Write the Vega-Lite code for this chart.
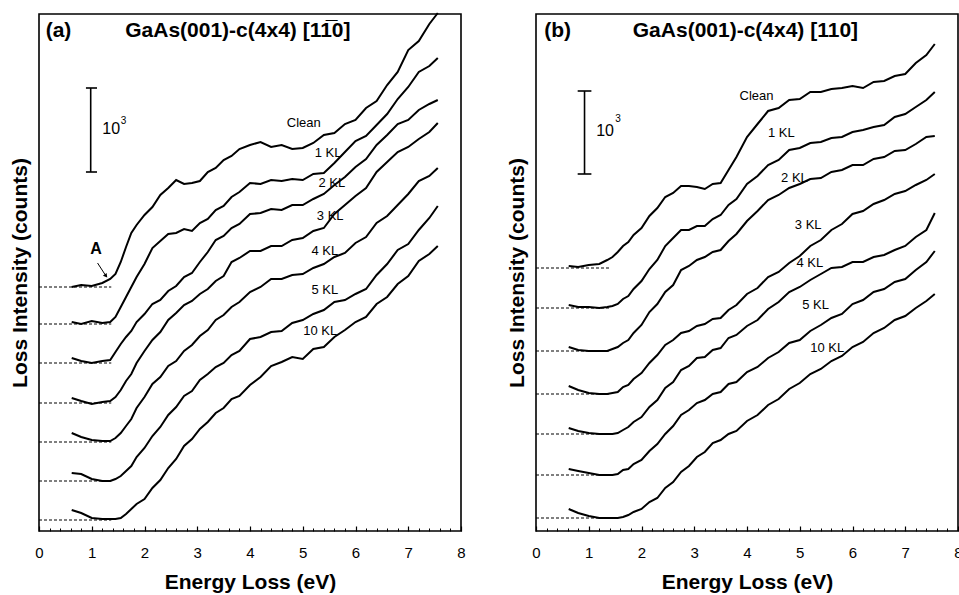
{
"$schema": "https://vega.github.io/schema/vega-lite/v6.json",
"padding": {"left": 8, "top": 8, "right": 2, "bottom": 0},
"background": "white",
"spacing": 39,
"config": {"view": {"stroke": "black", "strokeWidth": 1.6}, "font": "Liberation Sans"},
"datasets": {
"curves": [
{"p":"a","s":"0","e":0.62,"i":244},{"p":"a","s":"0","e":0.8,"i":246},{"p":"a","s":"0","e":1,"i":245},{"p":"a","s":"0","e":1.2,"i":248},{"p":"a","s":"0","e":1.35,"i":252},{"p":"a","s":"0","e":1.45,"i":257},{"p":"a","s":"0","e":1.55,"i":269},{"p":"a","s":"0","e":1.65,"i":284},{"p":"a","s":"0","e":1.75,"i":298},{"p":"a","s":"0","e":1.85,"i":306},{"p":"a","s":"0","e":2,"i":316},{"p":"a","s":"0","e":2.15,"i":324},{"p":"a","s":"0","e":2.3,"i":336},{"p":"a","s":"0","e":2.45,"i":343},{"p":"a","s":"0","e":2.6,"i":351},{"p":"a","s":"0","e":2.75,"i":347},{"p":"a","s":"0","e":2.9,"i":348},{"p":"a","s":"0","e":3.05,"i":350},{"p":"a","s":"0","e":3.2,"i":359},{"p":"a","s":"0","e":3.35,"i":363},{"p":"a","s":"0","e":3.5,"i":371},{"p":"a","s":"0","e":3.65,"i":375},{"p":"a","s":"0","e":3.8,"i":382},{"p":"a","s":"0","e":4,"i":386},{"p":"a","s":"0","e":4.2,"i":389},{"p":"a","s":"0","e":4.4,"i":384},{"p":"a","s":"0","e":4.6,"i":386},{"p":"a","s":"0","e":4.8,"i":382},{"p":"a","s":"0","e":5,"i":383},{"p":"a","s":"0","e":5.2,"i":388},{"p":"a","s":"0","e":5.4,"i":396},{"p":"a","s":"0","e":5.6,"i":398},{"p":"a","s":"0","e":5.8,"i":407},{"p":"a","s":"0","e":6,"i":411},{"p":"a","s":"0","e":6.2,"i":423},{"p":"a","s":"0","e":6.4,"i":430},{"p":"a","s":"0","e":6.6,"i":446},{"p":"a","s":"0","e":6.8,"i":459},{"p":"a","s":"0","e":7,"i":481},{"p":"a","s":"0","e":7.2,"i":490},{"p":"a","s":"0","e":7.4,"i":507},{"p":"a","s":"0","e":7.56,"i":518},
{"p":"a","s":"1","e":0.62,"i":209},{"p":"a","s":"1","e":0.8,"i":207},{"p":"a","s":"1","e":1,"i":210},{"p":"a","s":"1","e":1.2,"i":208},{"p":"a","s":"1","e":1.35,"i":209},{"p":"a","s":"1","e":1.45,"i":214},{"p":"a","s":"1","e":1.55,"i":224},{"p":"a","s":"1","e":1.65,"i":234},{"p":"a","s":"1","e":1.75,"i":244},{"p":"a","s":"1","e":1.85,"i":254},{"p":"a","s":"1","e":2,"i":267},{"p":"a","s":"1","e":2.15,"i":283},{"p":"a","s":"1","e":2.3,"i":290},{"p":"a","s":"1","e":2.45,"i":297},{"p":"a","s":"1","e":2.6,"i":298},{"p":"a","s":"1","e":2.75,"i":302},{"p":"a","s":"1","e":2.9,"i":300},{"p":"a","s":"1","e":3.05,"i":308},{"p":"a","s":"1","e":3.2,"i":312},{"p":"a","s":"1","e":3.35,"i":321},{"p":"a","s":"1","e":3.5,"i":325},{"p":"a","s":"1","e":3.65,"i":334},{"p":"a","s":"1","e":3.8,"i":339},{"p":"a","s":"1","e":4,"i":348},{"p":"a","s":"1","e":4.2,"i":347},{"p":"a","s":"1","e":4.4,"i":351},{"p":"a","s":"1","e":4.6,"i":350},{"p":"a","s":"1","e":4.8,"i":352},{"p":"a","s":"1","e":5,"i":351},{"p":"a","s":"1","e":5.2,"i":357},{"p":"a","s":"1","e":5.4,"i":358},{"p":"a","s":"1","e":5.6,"i":368},{"p":"a","s":"1","e":5.8,"i":379},{"p":"a","s":"1","e":6,"i":390},{"p":"a","s":"1","e":6.2,"i":395},{"p":"a","s":"1","e":6.4,"i":406},{"p":"a","s":"1","e":6.6,"i":417},{"p":"a","s":"1","e":6.8,"i":432},{"p":"a","s":"1","e":7,"i":444},{"p":"a","s":"1","e":7.2,"i":459},{"p":"a","s":"1","e":7.4,"i":465},{"p":"a","s":"1","e":7.56,"i":473},
{"p":"a","s":"2","e":0.62,"i":173},{"p":"a","s":"2","e":0.8,"i":170},{"p":"a","s":"2","e":1,"i":168},{"p":"a","s":"2","e":1.2,"i":170},{"p":"a","s":"2","e":1.35,"i":171},{"p":"a","s":"2","e":1.45,"i":179},{"p":"a","s":"2","e":1.55,"i":187},{"p":"a","s":"2","e":1.65,"i":194},{"p":"a","s":"2","e":1.75,"i":200},{"p":"a","s":"2","e":1.85,"i":209},{"p":"a","s":"2","e":2,"i":217},{"p":"a","s":"2","e":2.15,"i":227},{"p":"a","s":"2","e":2.3,"i":231},{"p":"a","s":"2","e":2.45,"i":240},{"p":"a","s":"2","e":2.6,"i":245},{"p":"a","s":"2","e":2.75,"i":254},{"p":"a","s":"2","e":2.9,"i":258},{"p":"a","s":"2","e":3.05,"i":269},{"p":"a","s":"2","e":3.2,"i":279},{"p":"a","s":"2","e":3.35,"i":291},{"p":"a","s":"2","e":3.5,"i":295},{"p":"a","s":"2","e":3.65,"i":303},{"p":"a","s":"2","e":3.8,"i":307},{"p":"a","s":"2","e":4,"i":317},{"p":"a","s":"2","e":4.2,"i":318},{"p":"a","s":"2","e":4.4,"i":322},{"p":"a","s":"2","e":4.6,"i":321},{"p":"a","s":"2","e":4.8,"i":326},{"p":"a","s":"2","e":5,"i":326},{"p":"a","s":"2","e":5.2,"i":332},{"p":"a","s":"2","e":5.4,"i":337},{"p":"a","s":"2","e":5.6,"i":346},{"p":"a","s":"2","e":5.8,"i":354},{"p":"a","s":"2","e":6,"i":364},{"p":"a","s":"2","e":6.2,"i":372},{"p":"a","s":"2","e":6.4,"i":386},{"p":"a","s":"2","e":6.6,"i":396},{"p":"a","s":"2","e":6.8,"i":407},{"p":"a","s":"2","e":7,"i":411},{"p":"a","s":"2","e":7.2,"i":421},{"p":"a","s":"2","e":7.4,"i":427},{"p":"a","s":"2","e":7.56,"i":431},
{"p":"a","s":"3","e":0.62,"i":133},{"p":"a","s":"3","e":0.8,"i":130},{"p":"a","s":"3","e":1,"i":127},{"p":"a","s":"3","e":1.2,"i":129},{"p":"a","s":"3","e":1.35,"i":130},{"p":"a","s":"3","e":1.45,"i":134},{"p":"a","s":"3","e":1.55,"i":141},{"p":"a","s":"3","e":1.65,"i":150},{"p":"a","s":"3","e":1.75,"i":157},{"p":"a","s":"3","e":1.85,"i":168},{"p":"a","s":"3","e":2,"i":180},{"p":"a","s":"3","e":2.15,"i":191},{"p":"a","s":"3","e":2.3,"i":199},{"p":"a","s":"3","e":2.45,"i":211},{"p":"a","s":"3","e":2.6,"i":218},{"p":"a","s":"3","e":2.75,"i":226},{"p":"a","s":"3","e":2.9,"i":230},{"p":"a","s":"3","e":3.05,"i":237},{"p":"a","s":"3","e":3.2,"i":242},{"p":"a","s":"3","e":3.35,"i":250},{"p":"a","s":"3","e":3.5,"i":255},{"p":"a","s":"3","e":3.65,"i":269},{"p":"a","s":"3","e":3.8,"i":273},{"p":"a","s":"3","e":4,"i":280},{"p":"a","s":"3","e":4.2,"i":280},{"p":"a","s":"3","e":4.4,"i":285},{"p":"a","s":"3","e":4.6,"i":285},{"p":"a","s":"3","e":4.8,"i":291},{"p":"a","s":"3","e":5,"i":293},{"p":"a","s":"3","e":5.2,"i":300},{"p":"a","s":"3","e":5.4,"i":303},{"p":"a","s":"3","e":5.6,"i":317},{"p":"a","s":"3","e":5.8,"i":326},{"p":"a","s":"3","e":6,"i":335},{"p":"a","s":"3","e":6.2,"i":343},{"p":"a","s":"3","e":6.4,"i":359},{"p":"a","s":"3","e":6.6,"i":369},{"p":"a","s":"3","e":6.8,"i":379},{"p":"a","s":"3","e":7,"i":384},{"p":"a","s":"3","e":7.2,"i":392},{"p":"a","s":"3","e":7.4,"i":399},{"p":"a","s":"3","e":7.56,"i":408},
{"p":"a","s":"4","e":0.62,"i":98},{"p":"a","s":"4","e":0.8,"i":94},{"p":"a","s":"4","e":1,"i":91},{"p":"a","s":"4","e":1.2,"i":90},{"p":"a","s":"4","e":1.35,"i":90},{"p":"a","s":"4","e":1.45,"i":93},{"p":"a","s":"4","e":1.55,"i":98},{"p":"a","s":"4","e":1.65,"i":105},{"p":"a","s":"4","e":1.75,"i":112},{"p":"a","s":"4","e":1.85,"i":123},{"p":"a","s":"4","e":2,"i":134},{"p":"a","s":"4","e":2.15,"i":147},{"p":"a","s":"4","e":2.3,"i":154},{"p":"a","s":"4","e":2.45,"i":165},{"p":"a","s":"4","e":2.6,"i":170},{"p":"a","s":"4","e":2.75,"i":180},{"p":"a","s":"4","e":2.9,"i":186},{"p":"a","s":"4","e":3.05,"i":195},{"p":"a","s":"4","e":3.2,"i":201},{"p":"a","s":"4","e":3.35,"i":211},{"p":"a","s":"4","e":3.5,"i":216},{"p":"a","s":"4","e":3.65,"i":224},{"p":"a","s":"4","e":3.8,"i":229},{"p":"a","s":"4","e":4,"i":239},{"p":"a","s":"4","e":4.2,"i":244},{"p":"a","s":"4","e":4.4,"i":252},{"p":"a","s":"4","e":4.6,"i":252},{"p":"a","s":"4","e":4.8,"i":256},{"p":"a","s":"4","e":5,"i":257},{"p":"a","s":"4","e":5.2,"i":263},{"p":"a","s":"4","e":5.4,"i":267},{"p":"a","s":"4","e":5.6,"i":274},{"p":"a","s":"4","e":5.8,"i":278},{"p":"a","s":"4","e":6,"i":288},{"p":"a","s":"4","e":6.2,"i":294},{"p":"a","s":"4","e":6.4,"i":308},{"p":"a","s":"4","e":6.6,"i":315},{"p":"a","s":"4","e":6.8,"i":326},{"p":"a","s":"4","e":7,"i":337},{"p":"a","s":"4","e":7.2,"i":350},{"p":"a","s":"4","e":7.4,"i":355},{"p":"a","s":"4","e":7.56,"i":363},
{"p":"a","s":"5","e":0.62,"i":58},{"p":"a","s":"5","e":0.8,"i":57},{"p":"a","s":"5","e":1,"i":52},{"p":"a","s":"5","e":1.2,"i":50},{"p":"a","s":"5","e":1.35,"i":50},{"p":"a","s":"5","e":1.45,"i":52},{"p":"a","s":"5","e":1.55,"i":55},{"p":"a","s":"5","e":1.65,"i":60},{"p":"a","s":"5","e":1.75,"i":65},{"p":"a","s":"5","e":1.85,"i":74},{"p":"a","s":"5","e":2,"i":83},{"p":"a","s":"5","e":2.15,"i":95},{"p":"a","s":"5","e":2.3,"i":104},{"p":"a","s":"5","e":2.45,"i":116},{"p":"a","s":"5","e":2.6,"i":124},{"p":"a","s":"5","e":2.75,"i":135},{"p":"a","s":"5","e":2.9,"i":140},{"p":"a","s":"5","e":3.05,"i":151},{"p":"a","s":"5","e":3.2,"i":157},{"p":"a","s":"5","e":3.35,"i":164},{"p":"a","s":"5","e":3.5,"i":168},{"p":"a","s":"5","e":3.65,"i":176},{"p":"a","s":"5","e":3.8,"i":180},{"p":"a","s":"5","e":4,"i":192},{"p":"a","s":"5","e":4.2,"i":194},{"p":"a","s":"5","e":4.4,"i":199},{"p":"a","s":"5","e":4.6,"i":200},{"p":"a","s":"5","e":4.8,"i":208},{"p":"a","s":"5","e":5,"i":211},{"p":"a","s":"5","e":5.2,"i":217},{"p":"a","s":"5","e":5.4,"i":221},{"p":"a","s":"5","e":5.6,"i":229},{"p":"a","s":"5","e":5.8,"i":231},{"p":"a","s":"5","e":6,"i":237},{"p":"a","s":"5","e":6.2,"i":242},{"p":"a","s":"5","e":6.4,"i":256},{"p":"a","s":"5","e":6.6,"i":267},{"p":"a","s":"5","e":6.8,"i":281},{"p":"a","s":"5","e":7,"i":287},{"p":"a","s":"5","e":7.2,"i":301},{"p":"a","s":"5","e":7.4,"i":313},{"p":"a","s":"5","e":7.56,"i":325},
{"p":"a","s":"10","e":0.62,"i":21},{"p":"a","s":"10","e":0.8,"i":18},{"p":"a","s":"10","e":1,"i":13},{"p":"a","s":"10","e":1.2,"i":12},{"p":"a","s":"10","e":1.35,"i":12},{"p":"a","s":"10","e":1.45,"i":12},{"p":"a","s":"10","e":1.55,"i":13},{"p":"a","s":"10","e":1.65,"i":17},{"p":"a","s":"10","e":1.75,"i":22},{"p":"a","s":"10","e":1.85,"i":27},{"p":"a","s":"10","e":2,"i":32},{"p":"a","s":"10","e":2.15,"i":43},{"p":"a","s":"10","e":2.3,"i":51},{"p":"a","s":"10","e":2.45,"i":63},{"p":"a","s":"10","e":2.6,"i":72},{"p":"a","s":"10","e":2.75,"i":85},{"p":"a","s":"10","e":2.9,"i":92},{"p":"a","s":"10","e":3.05,"i":102},{"p":"a","s":"10","e":3.2,"i":109},{"p":"a","s":"10","e":3.35,"i":118},{"p":"a","s":"10","e":3.5,"i":123},{"p":"a","s":"10","e":3.65,"i":132},{"p":"a","s":"10","e":3.8,"i":135},{"p":"a","s":"10","e":4,"i":146},{"p":"a","s":"10","e":4.2,"i":154},{"p":"a","s":"10","e":4.4,"i":165},{"p":"a","s":"10","e":4.6,"i":169},{"p":"a","s":"10","e":4.8,"i":174},{"p":"a","s":"10","e":5,"i":172},{"p":"a","s":"10","e":5.2,"i":182},{"p":"a","s":"10","e":5.4,"i":184},{"p":"a","s":"10","e":5.6,"i":194},{"p":"a","s":"10","e":5.8,"i":201},{"p":"a","s":"10","e":6,"i":209},{"p":"a","s":"10","e":6.2,"i":214},{"p":"a","s":"10","e":6.4,"i":227},{"p":"a","s":"10","e":6.6,"i":234},{"p":"a","s":"10","e":6.8,"i":247},{"p":"a","s":"10","e":7,"i":255},{"p":"a","s":"10","e":7.2,"i":270},{"p":"a","s":"10","e":7.4,"i":277},{"p":"a","s":"10","e":7.56,"i":285},
{"p":"b","s":"0","e":0.62,"i":265},{"p":"b","s":"0","e":0.8,"i":264},{"p":"b","s":"0","e":1,"i":266},{"p":"b","s":"0","e":1.2,"i":267},{"p":"b","s":"0","e":1.35,"i":271},{"p":"b","s":"0","e":1.45,"i":274},{"p":"b","s":"0","e":1.55,"i":279},{"p":"b","s":"0","e":1.65,"i":285},{"p":"b","s":"0","e":1.75,"i":289},{"p":"b","s":"0","e":1.85,"i":296},{"p":"b","s":"0","e":2,"i":303},{"p":"b","s":"0","e":2.15,"i":315},{"p":"b","s":"0","e":2.3,"i":323},{"p":"b","s":"0","e":2.45,"i":334},{"p":"b","s":"0","e":2.6,"i":338},{"p":"b","s":"0","e":2.75,"i":345},{"p":"b","s":"0","e":2.9,"i":345},{"p":"b","s":"0","e":3.05,"i":344},{"p":"b","s":"0","e":3.2,"i":342},{"p":"b","s":"0","e":3.35,"i":347},{"p":"b","s":"0","e":3.5,"i":348},{"p":"b","s":"0","e":3.65,"i":361},{"p":"b","s":"0","e":3.8,"i":374},{"p":"b","s":"0","e":4,"i":394},{"p":"b","s":"0","e":4.2,"i":407},{"p":"b","s":"0","e":4.4,"i":420},{"p":"b","s":"0","e":4.6,"i":423},{"p":"b","s":"0","e":4.8,"i":431},{"p":"b","s":"0","e":5,"i":432},{"p":"b","s":"0","e":5.2,"i":439},{"p":"b","s":"0","e":5.4,"i":439},{"p":"b","s":"0","e":5.6,"i":442},{"p":"b","s":"0","e":5.8,"i":443},{"p":"b","s":"0","e":6,"i":445},{"p":"b","s":"0","e":6.2,"i":443},{"p":"b","s":"0","e":6.4,"i":449},{"p":"b","s":"0","e":6.6,"i":450},{"p":"b","s":"0","e":6.8,"i":455},{"p":"b","s":"0","e":7,"i":457},{"p":"b","s":"0","e":7.2,"i":468},{"p":"b","s":"0","e":7.4,"i":476},{"p":"b","s":"0","e":7.56,"i":487},
{"p":"b","s":"1","e":0.62,"i":226},{"p":"b","s":"1","e":0.8,"i":224},{"p":"b","s":"1","e":1,"i":224},{"p":"b","s":"1","e":1.2,"i":223},{"p":"b","s":"1","e":1.35,"i":224},{"p":"b","s":"1","e":1.45,"i":225},{"p":"b","s":"1","e":1.55,"i":227},{"p":"b","s":"1","e":1.65,"i":232},{"p":"b","s":"1","e":1.75,"i":235},{"p":"b","s":"1","e":1.85,"i":242},{"p":"b","s":"1","e":2,"i":250},{"p":"b","s":"1","e":2.15,"i":262},{"p":"b","s":"1","e":2.3,"i":271},{"p":"b","s":"1","e":2.45,"i":285},{"p":"b","s":"1","e":2.6,"i":293},{"p":"b","s":"1","e":2.75,"i":301},{"p":"b","s":"1","e":2.9,"i":301},{"p":"b","s":"1","e":3.05,"i":305},{"p":"b","s":"1","e":3.2,"i":305},{"p":"b","s":"1","e":3.35,"i":312},{"p":"b","s":"1","e":3.5,"i":316},{"p":"b","s":"1","e":3.65,"i":326},{"p":"b","s":"1","e":3.8,"i":332},{"p":"b","s":"1","e":4,"i":347},{"p":"b","s":"1","e":4.2,"i":355},{"p":"b","s":"1","e":4.4,"i":366},{"p":"b","s":"1","e":4.6,"i":371},{"p":"b","s":"1","e":4.8,"i":381},{"p":"b","s":"1","e":5,"i":383},{"p":"b","s":"1","e":5.2,"i":388},{"p":"b","s":"1","e":5.4,"i":389},{"p":"b","s":"1","e":5.6,"i":393},{"p":"b","s":"1","e":5.8,"i":394},{"p":"b","s":"1","e":6,"i":399},{"p":"b","s":"1","e":6.2,"i":401},{"p":"b","s":"1","e":6.4,"i":404},{"p":"b","s":"1","e":6.6,"i":406},{"p":"b","s":"1","e":6.8,"i":414},{"p":"b","s":"1","e":7,"i":417},{"p":"b","s":"1","e":7.2,"i":424},{"p":"b","s":"1","e":7.4,"i":431},{"p":"b","s":"1","e":7.56,"i":439},
{"p":"b","s":"2","e":0.62,"i":184},{"p":"b","s":"2","e":0.8,"i":181},{"p":"b","s":"2","e":1,"i":180},{"p":"b","s":"2","e":1.2,"i":180},{"p":"b","s":"2","e":1.35,"i":180},{"p":"b","s":"2","e":1.45,"i":182},{"p":"b","s":"2","e":1.55,"i":184},{"p":"b","s":"2","e":1.65,"i":188},{"p":"b","s":"2","e":1.75,"i":191},{"p":"b","s":"2","e":1.85,"i":198},{"p":"b","s":"2","e":2,"i":206},{"p":"b","s":"2","e":2.15,"i":219},{"p":"b","s":"2","e":2.3,"i":227},{"p":"b","s":"2","e":2.45,"i":239},{"p":"b","s":"2","e":2.6,"i":246},{"p":"b","s":"2","e":2.75,"i":261},{"p":"b","s":"2","e":2.9,"i":265},{"p":"b","s":"2","e":3.05,"i":271},{"p":"b","s":"2","e":3.2,"i":274},{"p":"b","s":"2","e":3.35,"i":279},{"p":"b","s":"2","e":3.5,"i":281},{"p":"b","s":"2","e":3.65,"i":290},{"p":"b","s":"2","e":3.8,"i":297},{"p":"b","s":"2","e":4,"i":310},{"p":"b","s":"2","e":4.2,"i":320},{"p":"b","s":"2","e":4.4,"i":331},{"p":"b","s":"2","e":4.6,"i":336},{"p":"b","s":"2","e":4.8,"i":343},{"p":"b","s":"2","e":5,"i":347},{"p":"b","s":"2","e":5.2,"i":352},{"p":"b","s":"2","e":5.4,"i":353},{"p":"b","s":"2","e":5.6,"i":359},{"p":"b","s":"2","e":5.8,"i":361},{"p":"b","s":"2","e":6,"i":366},{"p":"b","s":"2","e":6.2,"i":366},{"p":"b","s":"2","e":6.4,"i":372},{"p":"b","s":"2","e":6.6,"i":374},{"p":"b","s":"2","e":6.8,"i":380},{"p":"b","s":"2","e":7,"i":381},{"p":"b","s":"2","e":7.2,"i":387},{"p":"b","s":"2","e":7.4,"i":394},{"p":"b","s":"2","e":7.56,"i":395},
{"p":"b","s":"3","e":0.62,"i":145},{"p":"b","s":"3","e":0.8,"i":141},{"p":"b","s":"3","e":1,"i":138},{"p":"b","s":"3","e":1.2,"i":137},{"p":"b","s":"3","e":1.35,"i":137},{"p":"b","s":"3","e":1.45,"i":138},{"p":"b","s":"3","e":1.55,"i":139},{"p":"b","s":"3","e":1.65,"i":144},{"p":"b","s":"3","e":1.75,"i":146},{"p":"b","s":"3","e":1.85,"i":152},{"p":"b","s":"3","e":2,"i":158},{"p":"b","s":"3","e":2.15,"i":168},{"p":"b","s":"3","e":2.3,"i":176},{"p":"b","s":"3","e":2.45,"i":186},{"p":"b","s":"3","e":2.6,"i":191},{"p":"b","s":"3","e":2.75,"i":198},{"p":"b","s":"3","e":2.9,"i":200},{"p":"b","s":"3","e":3.05,"i":205},{"p":"b","s":"3","e":3.2,"i":207},{"p":"b","s":"3","e":3.35,"i":212},{"p":"b","s":"3","e":3.5,"i":213},{"p":"b","s":"3","e":3.65,"i":221},{"p":"b","s":"3","e":3.8,"i":226},{"p":"b","s":"3","e":4,"i":237},{"p":"b","s":"3","e":4.2,"i":243},{"p":"b","s":"3","e":4.4,"i":254},{"p":"b","s":"3","e":4.6,"i":259},{"p":"b","s":"3","e":4.8,"i":268},{"p":"b","s":"3","e":5,"i":275},{"p":"b","s":"3","e":5.2,"i":285},{"p":"b","s":"3","e":5.4,"i":291},{"p":"b","s":"3","e":5.6,"i":301},{"p":"b","s":"3","e":5.8,"i":307},{"p":"b","s":"3","e":6,"i":317},{"p":"b","s":"3","e":6.2,"i":320},{"p":"b","s":"3","e":6.4,"i":327},{"p":"b","s":"3","e":6.6,"i":331},{"p":"b","s":"3","e":6.8,"i":337},{"p":"b","s":"3","e":7,"i":340},{"p":"b","s":"3","e":7.2,"i":346},{"p":"b","s":"3","e":7.4,"i":351},{"p":"b","s":"3","e":7.56,"i":357},
{"p":"b","s":"4","e":0.62,"i":103},{"p":"b","s":"4","e":0.8,"i":100},{"p":"b","s":"4","e":1,"i":98},{"p":"b","s":"4","e":1.2,"i":97},{"p":"b","s":"4","e":1.35,"i":97},{"p":"b","s":"4","e":1.45,"i":97},{"p":"b","s":"4","e":1.55,"i":98},{"p":"b","s":"4","e":1.65,"i":101},{"p":"b","s":"4","e":1.75,"i":104},{"p":"b","s":"4","e":1.85,"i":109},{"p":"b","s":"4","e":2,"i":114},{"p":"b","s":"4","e":2.15,"i":124},{"p":"b","s":"4","e":2.3,"i":131},{"p":"b","s":"4","e":2.45,"i":143},{"p":"b","s":"4","e":2.6,"i":149},{"p":"b","s":"4","e":2.75,"i":161},{"p":"b","s":"4","e":2.9,"i":165},{"p":"b","s":"4","e":3.05,"i":173},{"p":"b","s":"4","e":3.2,"i":174},{"p":"b","s":"4","e":3.35,"i":181},{"p":"b","s":"4","e":3.5,"i":183},{"p":"b","s":"4","e":3.65,"i":193},{"p":"b","s":"4","e":3.8,"i":196},{"p":"b","s":"4","e":4,"i":205},{"p":"b","s":"4","e":4.2,"i":211},{"p":"b","s":"4","e":4.4,"i":222},{"p":"b","s":"4","e":4.6,"i":229},{"p":"b","s":"4","e":4.8,"i":239},{"p":"b","s":"4","e":5,"i":244},{"p":"b","s":"4","e":5.2,"i":251},{"p":"b","s":"4","e":5.4,"i":257},{"p":"b","s":"4","e":5.6,"i":263},{"p":"b","s":"4","e":5.8,"i":264},{"p":"b","s":"4","e":6,"i":269},{"p":"b","s":"4","e":6.2,"i":269},{"p":"b","s":"4","e":6.4,"i":274},{"p":"b","s":"4","e":6.6,"i":276},{"p":"b","s":"4","e":6.8,"i":281},{"p":"b","s":"4","e":7,"i":285},{"p":"b","s":"4","e":7.2,"i":294},{"p":"b","s":"4","e":7.4,"i":301},{"p":"b","s":"4","e":7.56,"i":318},
{"p":"b","s":"5","e":0.62,"i":62},{"p":"b","s":"5","e":0.8,"i":60},{"p":"b","s":"5","e":1,"i":58},{"p":"b","s":"5","e":1.2,"i":56},{"p":"b","s":"5","e":1.35,"i":56},{"p":"b","s":"5","e":1.45,"i":56},{"p":"b","s":"5","e":1.55,"i":57},{"p":"b","s":"5","e":1.65,"i":61},{"p":"b","s":"5","e":1.75,"i":62},{"p":"b","s":"5","e":1.85,"i":67},{"p":"b","s":"5","e":2,"i":71},{"p":"b","s":"5","e":2.15,"i":80},{"p":"b","s":"5","e":2.3,"i":87},{"p":"b","s":"5","e":2.45,"i":97},{"p":"b","s":"5","e":2.6,"i":105},{"p":"b","s":"5","e":2.75,"i":116},{"p":"b","s":"5","e":2.9,"i":121},{"p":"b","s":"5","e":3.05,"i":128},{"p":"b","s":"5","e":3.2,"i":131},{"p":"b","s":"5","e":3.35,"i":137},{"p":"b","s":"5","e":3.5,"i":139},{"p":"b","s":"5","e":3.65,"i":147},{"p":"b","s":"5","e":3.8,"i":149},{"p":"b","s":"5","e":4,"i":159},{"p":"b","s":"5","e":4.2,"i":164},{"p":"b","s":"5","e":4.4,"i":173},{"p":"b","s":"5","e":4.6,"i":179},{"p":"b","s":"5","e":4.8,"i":188},{"p":"b","s":"5","e":5,"i":191},{"p":"b","s":"5","e":5.2,"i":200},{"p":"b","s":"5","e":5.4,"i":206},{"p":"b","s":"5","e":5.6,"i":213},{"p":"b","s":"5","e":5.8,"i":217},{"p":"b","s":"5","e":6,"i":227},{"p":"b","s":"5","e":6.2,"i":231},{"p":"b","s":"5","e":6.4,"i":239},{"p":"b","s":"5","e":6.6,"i":242},{"p":"b","s":"5","e":6.8,"i":249},{"p":"b","s":"5","e":7,"i":252},{"p":"b","s":"5","e":7.2,"i":261},{"p":"b","s":"5","e":7.4,"i":269},{"p":"b","s":"5","e":7.56,"i":280},
{"p":"b","s":"10","e":0.62,"i":22},{"p":"b","s":"10","e":0.8,"i":18},{"p":"b","s":"10","e":1,"i":15},{"p":"b","s":"10","e":1.2,"i":13},{"p":"b","s":"10","e":1.35,"i":13},{"p":"b","s":"10","e":1.45,"i":13},{"p":"b","s":"10","e":1.55,"i":13},{"p":"b","s":"10","e":1.65,"i":14},{"p":"b","s":"10","e":1.75,"i":16},{"p":"b","s":"10","e":1.85,"i":19},{"p":"b","s":"10","e":2,"i":22},{"p":"b","s":"10","e":2.15,"i":29},{"p":"b","s":"10","e":2.3,"i":33},{"p":"b","s":"10","e":2.45,"i":43},{"p":"b","s":"10","e":2.6,"i":49},{"p":"b","s":"10","e":2.75,"i":59},{"p":"b","s":"10","e":2.9,"i":65},{"p":"b","s":"10","e":3.05,"i":74},{"p":"b","s":"10","e":3.2,"i":79},{"p":"b","s":"10","e":3.35,"i":88},{"p":"b","s":"10","e":3.5,"i":91},{"p":"b","s":"10","e":3.65,"i":97},{"p":"b","s":"10","e":3.8,"i":100},{"p":"b","s":"10","e":4,"i":110},{"p":"b","s":"10","e":4.2,"i":116},{"p":"b","s":"10","e":4.4,"i":126},{"p":"b","s":"10","e":4.6,"i":132},{"p":"b","s":"10","e":4.8,"i":142},{"p":"b","s":"10","e":5,"i":148},{"p":"b","s":"10","e":5.2,"i":157},{"p":"b","s":"10","e":5.4,"i":162},{"p":"b","s":"10","e":5.6,"i":170},{"p":"b","s":"10","e":5.8,"i":175},{"p":"b","s":"10","e":6,"i":184},{"p":"b","s":"10","e":6.2,"i":189},{"p":"b","s":"10","e":6.4,"i":198},{"p":"b","s":"10","e":6.6,"i":203},{"p":"b","s":"10","e":6.8,"i":211},{"p":"b","s":"10","e":7,"i":215},{"p":"b","s":"10","e":7.2,"i":223},{"p":"b","s":"10","e":7.4,"i":230},{"p":"b","s":"10","e":7.56,"i":237}
],
"base": [
{"p":"a","e0":0,"e1":1.37,"i":244},{"p":"a","e0":0,"e1":1.37,"i":207},{"p":"a","e0":0,"e1":1.37,"i":168},{"p":"a","e0":0,"e1":1.37,"i":128},{"p":"a","e0":0,"e1":1.37,"i":89},{"p":"a","e0":0,"e1":1.37,"i":50},{"p":"a","e0":0,"e1":1.37,"i":11},
{"p":"b","e0":0,"e1":1.39,"i":263},{"p":"b","e0":0,"e1":1.39,"i":223},{"p":"b","e0":0,"e1":1.39,"i":180},{"p":"b","e0":0,"e1":1.39,"i":137},{"p":"b","e0":0,"e1":1.39,"i":97},{"p":"b","e0":0,"e1":1.39,"i":56},{"p":"b","e0":0,"e1":1.39,"i":13}
],
"bar": [{"p":"a","e":0.98,"i0":359,"i1":443},{"p":"b","e":0.92,"i0":357,"i1":440}],
"caps": [{"p":"a","e0":0.89,"e1":1.1,"i":359},{"p":"a","e0":0.89,"e1":1.1,"i":443},{"p":"b","e0":0.79,"e1":1.05,"i":357},{"p":"b","e0":0.79,"e1":1.05,"i":440}],
"labels": [
{"p":"a","e":5.02,"i":408,"t":"Clean"},{"p":"a","e":5.48,"i":378,"t":"1 KL"},{"p":"a","e":5.55,"i":348,"t":"2 KL"},{"p":"a","e":5.52,"i":315,"t":"3 KL"},{"p":"a","e":5.42,"i":280,"t":"4 KL"},{"p":"a","e":5.42,"i":241,"t":"5 KL"},{"p":"a","e":5.33,"i":200,"t":"10 KL"},
{"p":"b","e":4.18,"i":435,"t":"Clean"},{"p":"b","e":4.65,"i":398,"t":"1 KL"},{"p":"b","e":4.9,"i":353,"t":"2 KL"},{"p":"b","e":5.16,"i":306,"t":"3 KL"},{"p":"b","e":5.19,"i":268,"t":"4 KL"},{"p":"b","e":5.3,"i":226,"t":"5 KL"},{"p":"b","e":5.52,"i":183,"t":"10 KL"}
],
"ten": [{"p":"a","e":1.2,"i":402,"t":"10"},{"p":"b","e":1.14,"i":400,"t":"10"}],
"sup": [{"p":"a","e":1.55,"i":410,"t":"3"},{"p":"b","e":1.5,"i":412,"t":"3"}],
"heads": [
{"p":"a","e":0.37,"i":500,"t":"(a)"},{"p":"a","e":3.77,"i":500,"t":"GaAs(001)-c(4x4) [11\u03050]"},
{"p":"b","e":0.41,"i":500,"t":"(b)"},{"p":"b","e":3.97,"i":500,"t":"GaAs(001)-c(4x4) [110]"}
],
"mark": [{"p":"a","e":1.08,"i":282,"t":"A"}],
"arrow": [{"p":"a","e":1.11,"i":268,"e2":1.27,"i2":255}]
},
"hconcat": [
{
"width": 422, "height": 517,
"resolve": {"axis": {"x": "independent", "y": "independent"}},
"layer": [
{"data": {"name": "base"}, "transform": [{"filter": "datum.p == 'a'"}],
 "mark": {"type": "rule", "strokeDash": [3, 2], "strokeWidth": 1.2, "color": "black"},
 "encoding": {"x": {"field": "e0", "type": "quantitative", "scale": {"domain": [0, 8], "nice": false},
   "axis": {"orient": "bottom", "values": [0.2,0.4,0.6,0.8,1.2,1.4,1.6,1.8,2.2,2.4,2.6,2.8,3.2,3.4,3.6,3.8,4.2,4.4,4.6,4.8,5.2,5.4,5.6,5.8,6.2,6.4,6.6,6.8,7.2,7.4,7.6,7.8],
    "labels": false, "tickSize": -3, "tickColor": "black", "tickWidth": 1, "domain": false, "grid": false, "title": null}},
  "x2": {"field": "e1"},
  "y": {"field": "i", "type": "quantitative", "scale": {"domain": [0, 517], "nice": false}, "axis": null}}},
{"data": {"name": "curves"}, "transform": [{"filter": "datum.p == 'a'"}],
 "mark": {"type": "line", "color": "black", "strokeWidth": 2},
 "encoding": {
  "x": {"field": "e", "type": "quantitative", "scale": {"domain": [0, 8], "nice": false},
   "axis": {"orient": "bottom", "values": [0,1,2,3,4,5,6,7,8], "format": "d", "labelOverlap": false, "labelFlush": false,
    "tickSize": -5, "tickColor": "black", "tickWidth": 1.2, "domain": false, "grid": false,
    "labelFontSize": 15, "labelColor": "black", "labelPadding": 19, "labelFont": "Liberation Sans",
    "title": "Energy Loss (eV)", "titleFontSize": 21, "titleFontWeight": "bold", "titleColor": "black", "titlePadding": 11, "titleFont": "Liberation Sans"}},
  "y": {"field": "i", "type": "quantitative", "scale": {"domain": [0, 517], "nice": false},
   "axis": {"title": "Loss Intensity (counts)", "labels": false, "ticks": false, "domain": false, "grid": false,
    "titleFontSize": 21, "titleFontWeight": "bold", "titleColor": "black", "titlePadding": 9, "titleFont": "Liberation Sans"}},
  "detail": {"field": "s"}}},
{"data": {"name": "bar"}, "transform": [{"filter": "datum.p == 'a'"}],
 "mark": {"type": "rule", "strokeWidth": 1.6, "color": "black"},
 "encoding": {"x": {"field": "e", "type": "quantitative", "axis": null}, "y": {"field": "i0", "type": "quantitative", "axis": null}, "y2": {"field": "i1"}}},
{"data": {"name": "caps"}, "transform": [{"filter": "datum.p == 'a'"}],
 "mark": {"type": "rule", "strokeWidth": 1.6, "color": "black"},
 "encoding": {"x": {"field": "e0", "type": "quantitative", "axis": null}, "x2": {"field": "e1"}, "y": {"field": "i", "type": "quantitative", "axis": null}}},
{"data": {"name": "labels"}, "transform": [{"filter": "datum.p == 'a'"}],
 "mark": {"type": "text", "fontSize": 13, "color": "black", "align": "center", "baseline": "middle"},
 "encoding": {"x": {"field": "e", "type": "quantitative", "axis": null}, "y": {"field": "i", "type": "quantitative", "axis": null}, "text": {"field": "t"}}},
{"data": {"name": "ten"}, "transform": [{"filter": "datum.p == 'a'"}],
 "mark": {"type": "text", "fontSize": 16, "color": "black", "align": "left", "baseline": "middle"},
 "encoding": {"x": {"field": "e", "type": "quantitative", "axis": null}, "y": {"field": "i", "type": "quantitative", "axis": null}, "text": {"field": "t"}}},
{"data": {"name": "sup"}, "transform": [{"filter": "datum.p == 'a'"}],
 "mark": {"type": "text", "fontSize": 10, "color": "black", "align": "left", "baseline": "middle"},
 "encoding": {"x": {"field": "e", "type": "quantitative", "axis": null}, "y": {"field": "i", "type": "quantitative", "axis": null}, "text": {"field": "t"}}},
{"data": {"name": "heads"}, "transform": [{"filter": "datum.p == 'a'"}],
 "mark": {"type": "text", "fontSize": 21, "fontWeight": "bold", "color": "black", "align": "center", "baseline": "middle"},
 "encoding": {"x": {"field": "e", "type": "quantitative", "axis": null}, "y": {"field": "i", "type": "quantitative", "axis": null}, "text": {"field": "t"}}},
{"data": {"name": "mark"}, "transform": [{"filter": "datum.p == 'a'"}],
 "mark": {"type": "text", "fontSize": 16, "fontWeight": "bold", "color": "black", "align": "center", "baseline": "middle"},
 "encoding": {"x": {"field": "e", "type": "quantitative", "axis": null}, "y": {"field": "i", "type": "quantitative", "axis": null}, "text": {"field": "t"}}},
{"data": {"name": "arrow"}, "transform": [{"filter": "datum.p == 'a'"}],
 "mark": {"type": "rule", "strokeWidth": 1, "color": "black"},
 "encoding": {"x": {"field": "e", "type": "quantitative", "axis": null}, "y": {"field": "i", "type": "quantitative", "axis": null}, "x2": {"field": "e2"}, "y2": {"field": "i2"}}},
{"data": {"name": "arrow"}, "transform": [{"filter": "datum.p == 'a'"}],
 "mark": {"type": "point", "shape": "triangle-up", "filled": true, "color": "black", "size": 22, "angle": 142, "opacity": 1},
 "encoding": {"x": {"field": "e2", "type": "quantitative", "axis": null}, "y": {"field": "i2", "type": "quantitative", "axis": null}}}
]
},
{
"width": 422, "height": 517,
"resolve": {"axis": {"x": "independent", "y": "independent"}},
"layer": [
{"data": {"name": "base"}, "transform": [{"filter": "datum.p == 'b'"}],
 "mark": {"type": "rule", "strokeDash": [3, 2], "strokeWidth": 1.2, "color": "black"},
 "encoding": {"x": {"field": "e0", "type": "quantitative", "scale": {"domain": [0, 8], "nice": false},
   "axis": {"orient": "bottom", "values": [0.2,0.4,0.6,0.8,1.2,1.4,1.6,1.8,2.2,2.4,2.6,2.8,3.2,3.4,3.6,3.8,4.2,4.4,4.6,4.8,5.2,5.4,5.6,5.8,6.2,6.4,6.6,6.8,7.2,7.4,7.6,7.8],
    "labels": false, "tickSize": -3, "tickColor": "black", "tickWidth": 1, "domain": false, "grid": false, "title": null}},
  "x2": {"field": "e1"},
  "y": {"field": "i", "type": "quantitative", "scale": {"domain": [0, 517], "nice": false}, "axis": null}}},
{"data": {"name": "curves"}, "transform": [{"filter": "datum.p == 'b'"}],
 "mark": {"type": "line", "color": "black", "strokeWidth": 2},
 "encoding": {
  "x": {"field": "e", "type": "quantitative", "scale": {"domain": [0, 8], "nice": false},
   "axis": {"orient": "bottom", "values": [0,1,2,3,4,5,6,7,8], "format": "d", "labelOverlap": false, "labelFlush": false,
    "tickSize": -5, "tickColor": "black", "tickWidth": 1.2, "domain": false, "grid": false,
    "labelFontSize": 15, "labelColor": "black", "labelPadding": 19, "labelFont": "Liberation Sans",
    "title": "Energy Loss (eV)", "titleFontSize": 21, "titleFontWeight": "bold", "titleColor": "black", "titlePadding": 11, "titleFont": "Liberation Sans"}},
  "y": {"field": "i", "type": "quantitative", "scale": {"domain": [0, 517], "nice": false},
   "axis": {"title": "Loss Intensity (counts)", "labels": false, "ticks": false, "domain": false, "grid": false,
    "titleFontSize": 21, "titleFontWeight": "bold", "titleColor": "black", "titlePadding": 9, "titleFont": "Liberation Sans"}},
  "detail": {"field": "s"}}},
{"data": {"name": "bar"}, "transform": [{"filter": "datum.p == 'b'"}],
 "mark": {"type": "rule", "strokeWidth": 1.6, "color": "black"},
 "encoding": {"x": {"field": "e", "type": "quantitative", "axis": null}, "y": {"field": "i0", "type": "quantitative", "axis": null}, "y2": {"field": "i1"}}},
{"data": {"name": "caps"}, "transform": [{"filter": "datum.p == 'b'"}],
 "mark": {"type": "rule", "strokeWidth": 1.6, "color": "black"},
 "encoding": {"x": {"field": "e0", "type": "quantitative", "axis": null}, "x2": {"field": "e1"}, "y": {"field": "i", "type": "quantitative", "axis": null}}},
{"data": {"name": "labels"}, "transform": [{"filter": "datum.p == 'b'"}],
 "mark": {"type": "text", "fontSize": 13, "color": "black", "align": "center", "baseline": "middle"},
 "encoding": {"x": {"field": "e", "type": "quantitative", "axis": null}, "y": {"field": "i", "type": "quantitative", "axis": null}, "text": {"field": "t"}}},
{"data": {"name": "ten"}, "transform": [{"filter": "datum.p == 'b'"}],
 "mark": {"type": "text", "fontSize": 16, "color": "black", "align": "left", "baseline": "middle"},
 "encoding": {"x": {"field": "e", "type": "quantitative", "axis": null}, "y": {"field": "i", "type": "quantitative", "axis": null}, "text": {"field": "t"}}},
{"data": {"name": "sup"}, "transform": [{"filter": "datum.p == 'b'"}],
 "mark": {"type": "text", "fontSize": 10, "color": "black", "align": "left", "baseline": "middle"},
 "encoding": {"x": {"field": "e", "type": "quantitative", "axis": null}, "y": {"field": "i", "type": "quantitative", "axis": null}, "text": {"field": "t"}}},
{"data": {"name": "heads"}, "transform": [{"filter": "datum.p == 'b'"}],
 "mark": {"type": "text", "fontSize": 21, "fontWeight": "bold", "color": "black", "align": "center", "baseline": "middle"},
 "encoding": {"x": {"field": "e", "type": "quantitative", "axis": null}, "y": {"field": "i", "type": "quantitative", "axis": null}, "text": {"field": "t"}}}
]
}
]
}
